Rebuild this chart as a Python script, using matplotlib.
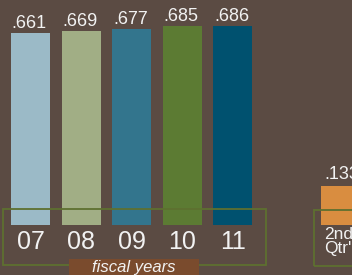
import matplotlib
matplotlib.use("Agg")
import matplotlib.pyplot as plt
from matplotlib.patches import Rectangle

plt.rcParams['font.family'] = ['Liberation Sans', 'DejaVu Sans']

years = ["07", "08", "09", "10", "11"]
year_values = [0.661, 0.669, 0.677, 0.685, 0.686]
year_labels = [".661", ".669", ".677", ".685", ".686"]
year_colors = ["#9bbac7", "#a1ae85", "#33758d", "#5c7b33", "#00516f"]

qtr_label = "2nd\nQtr'12"
qtr_value = 0.133
qtr_text = ".133"
qtr_color = "#d98d40"

bg = "#5b4b43"
txt = "#f2f2f2"
box_line = "#5e7030"

W, H = 352, 275
fig = plt.figure(figsize=(W / 100, H / 100), dpi=100, facecolor=bg)
ax = fig.add_axes([0, 0, 1, 1])
ax.set_facecolor(bg)
ax.axis('off')

slot = 50.6       # px between bars
ppu = 290.0       # px per value unit
x0, y0 = 30.5, 225.0
ax.set_xlim(-x0 / slot, (W - x0) / slot)
ax.set_ylim(-(H - y0) / ppu, y0 / ppu)

xs = list(range(len(years)))
qx = 6.13

ax.bar(xs, year_values, width=0.77, color=year_colors, zorder=3)
ax.bar([qx], [qtr_value], width=0.77, color=qtr_color, zorder=3)

for x, v, lab in zip(xs, year_values, year_labels):
    ax.annotate(lab, (x, v), xytext=(-1, 3.5), textcoords='offset points',
                ha='center', va='baseline', fontsize=13, color=txt, zorder=4)
    ax.text(x, -0.057, years[x], ha='center', va='center', fontsize=18, color=txt)
ax.annotate(qtr_text, (qx, qtr_value), xytext=(1, 5.5), textcoords='offset points',
            ha='center', va='baseline', fontsize=13, color=txt)
ax.text(qx - 0.33, -0.008, qtr_label, ha='left', va='top', fontsize=12.5,
        color=txt, linespacing=0.9)

# bracket boxes and caption (pixel placement)
def px_rect(x, y, w, h, **kw):
    return Rectangle((x / W, 1 - (y + h) / H), w / W, h / H,
                     transform=fig.transFigure, **kw)

fig.patches.append(px_rect(2.5, 209, 263, 56, fill=False, ec=box_line, lw=1.3, zorder=1))
fig.patches.append(px_rect(313.5, 210, 60, 56, fill=False, ec=box_line, lw=1.3, zorder=1))
fig.patches.append(px_rect(69, 259, 130, 20, fc="#7a4b2d", ec='none', zorder=2))
fig.text(134 / W, 1 - 267.5 / H, "fiscal years", ha='center', va='center',
         fontsize=12, style='italic', color=txt)

fig.savefig("out.png", dpi=100, facecolor=bg)
